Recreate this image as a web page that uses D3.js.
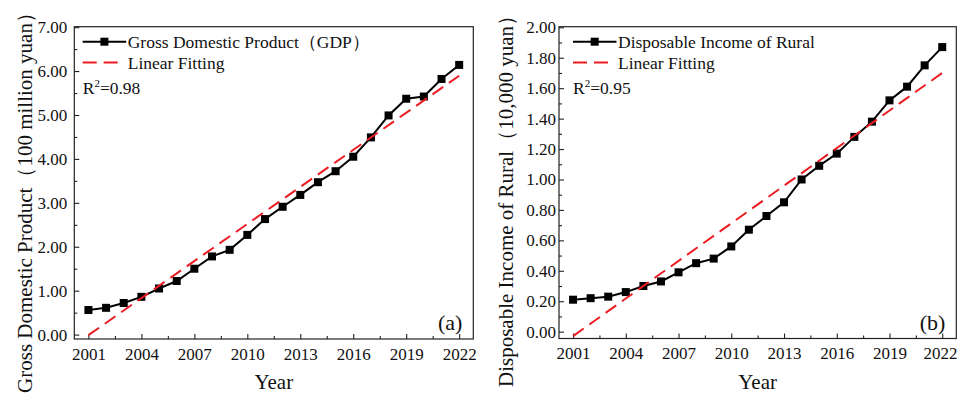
<!DOCTYPE html>
<html>
<head>
<meta charset="utf-8">
<script src="https://cdn.jsdelivr.net/npm/d3@7"></script>
<style>
  html, body { margin: 0; padding: 0; background: #fff; }
  svg { display: block; }
  text { font-family: "Liberation Serif", "Times New Roman", serif; fill: #111; }
</style>
</head>
<body>
<svg id="chart" width="958" height="394"></svg>
<script>
// Yearly observations 2001–2022
const years = [2001, 2002, 2003, 2004, 2005, 2006, 2007, 2008, 2009, 2010, 2011,
               2012, 2013, 2014, 2015, 2016, 2017, 2018, 2019, 2020, 2021, 2022];
// Gross Domestic Product (100 million yuan)
const gdpValues = [0.56, 0.61, 0.72, 0.86, 1.05, 1.22, 1.50, 1.78, 1.93, 2.27, 2.63,
                   2.91, 3.18, 3.47, 3.72, 4.05, 4.49, 4.99, 5.37, 5.42, 5.82, 6.14];
// Disposable income of rural residents (10,000 yuan)
const incomeValues = [0.21, 0.22, 0.23, 0.26, 0.30, 0.33, 0.39, 0.45, 0.48, 0.56, 0.67,
                      0.76, 0.85, 1.00, 1.09, 1.17, 1.28, 1.38, 1.52, 1.61, 1.75, 1.87];

const yearTicks = [2001, 2004, 2007, 2010, 2013, 2016, 2019, 2022];
const gdpTicks = [0, 1, 2, 3, 4, 5, 6, 7];
const incomeTicks = [0, 0.2, 0.4, 0.6, 0.8, 1.0, 1.2, 1.4, 1.6, 1.8, 2.0];
const seriesNames = ["Gross Domestic Product\uFF08GDP\uFF09", "Disposable Income of Rural"];
const fitName = "Linear Fitting";
const rSquaredText = ["0.98", "0.95"];
const yTitles = ["Gross Domestic Product\uFF08100 million yuan\uFF09",
                 "Disposable Income of Rural\uFF0810,000 yuan\uFF09"];
const panelTags = ["(a)", "(b)"];

const svg = d3.select("#chart");
const RED = "#ec1c24";
const SVG_WIDTH = 958;

// Ordinary least-squares fit y = a + b*x
function linearFit(xs, ys) {
  const mx = d3.mean(xs), my = d3.mean(ys);
  let sxy = 0, sxx = 0;
  xs.forEach((x, i) => { sxy += (x - mx) * (ys[i] - my); sxx += (x - mx) * (x - mx); });
  const b = sxy / sxx;
  return { a: my - b * mx, b };
}

function drawPanel(cfg) {
  const { left, right, top, bottom } = cfg.frame;
  const x = d3.scaleLinear().domain([2000.2, 2022.8]).range([left, right]);
  const y = d3.scaleLinear().domain(cfg.yDomain).range([bottom, top]);
  const g = svg.append("g");

  // minor ticks (inward)
  g.append("g").attr("transform", `translate(0,${bottom})`)
    .call(d3.axisBottom(x).tickValues(cfg.xMinor).tickSize(-3).tickFormat(""))
    .call(s => s.select(".domain").remove());
  g.append("g").attr("transform", `translate(${left},0)`)
    .call(d3.axisLeft(y).tickValues(cfg.yMinor).tickSize(-3).tickFormat(""))
    .call(s => s.select(".domain").remove());

  // major ticks with labels
  const xAxis = g.append("g").attr("transform", `translate(0,${bottom})`)
    .call(d3.axisBottom(x).tickValues(yearTicks).tickSize(-5).tickPadding(8.5).tickFormat(d3.format("d")));
  xAxis.select(".domain").remove();
  const yAxis = g.append("g").attr("transform", `translate(${left},0)`)
    .call(d3.axisLeft(y).tickValues(cfg.yTicks).tickSize(-5).tickPadding(cfg.yPad).tickFormat(d3.format(".2f")));
  yAxis.select(".domain").remove();
  g.selectAll(".tick line").attr("stroke", "#222").attr("stroke-width", 1.1);
  g.selectAll(".tick text").attr("font-size", 17).attr("fill", "#111")
    .style("font-family", '"Liberation Serif", "Times New Roman", serif');

  // keep the last year label inside the drawing area
  xAxis.selectAll(".tick text").each(function (d) {
    const t = d3.select(this);
    const half = this.getComputedTextLength() / 2;
    if (x(d) + half > SVG_WIDTH - 1) {
      t.attr("text-anchor", "end").attr("x", SVG_WIDTH - 1 - x(d));
    }
  });

  // frame
  g.append("rect").attr("x", left).attr("y", top)
    .attr("width", right - left).attr("height", bottom - top)
    .attr("fill", "none").attr("stroke", "#222").attr("stroke-width", 1.2);

  // data line + square markers
  const pts = years.map((yr, i) => [yr, cfg.values[i]]);
  g.append("path").datum(pts)
    .attr("fill", "none").attr("stroke", "#000").attr("stroke-width", 2)
    .attr("d", d3.line().x(d => x(d[0])).y(d => y(d[1])));
  g.selectAll(".mk").data(pts).enter().append("rect")
    .attr("x", d => x(d[0]) - 4).attr("y", d => y(d[1]) - 4)
    .attr("width", 8).attr("height", 8).attr("fill", "#000");

  // fitted line
  const fit = linearFit(years, cfg.values);
  const x0 = years[0], x1 = years[years.length - 1];
  g.append("path").datum([[x0, fit.a + fit.b * x0], [x1, fit.a + fit.b * x1]])
    .attr("fill", "none").attr("stroke", RED).attr("stroke-width", 2)
    .attr("stroke-dasharray", "13,7")
    .attr("d", d3.line().x(d => x(d[0])).y(d => y(d[1])));

  // legend
  const lx = left + cfg.legendDx;
  g.append("line").attr("x1", lx).attr("x2", lx + 43.5).attr("y1", 41.7).attr("y2", 41.7)
    .attr("stroke", "#000").attr("stroke-width", 2);
  g.append("rect").attr("x", lx + 21.7 - 4).attr("y", 41.7 - 4).attr("width", 8).attr("height", 8).attr("fill", "#000");
  g.append("text").attr("x", lx + 45).attr("y", 47.5).attr("font-size", 17.5).text(cfg.name);
  g.append("line").attr("x1", lx).attr("x2", lx + 35).attr("y1", 62.5).attr("y2", 62.5)
    .attr("stroke", RED).attr("stroke-width", 2).attr("stroke-dasharray", "14,7");
  g.append("text").attr("x", lx + 45).attr("y", 69).attr("font-size", 17.5).text(fitName);
  const r2 = g.append("text").attr("x", lx).attr("y", 94).attr("font-size", 17.5);
  r2.append("tspan").text("R");
  r2.append("tspan").attr("font-size", 11).attr("dy", -7).text("2");
  r2.append("tspan").attr("dy", 7).text("=" + cfg.r2);

  // panel tag
  g.append("text").attr("x", right - 11).attr("y", 330).attr("text-anchor", "end")
    .attr("font-size", 22).text(cfg.tag);

  // axis titles
  g.append("text").attr("x", (left + right) / 2).attr("y", 389).attr("text-anchor", "middle")
    .attr("font-size", 21).text("Year");
  g.append("text").attr("transform", `translate(${cfg.titleX},${cfg.titleY}) rotate(-90)`)
    .attr("text-anchor", "middle").attr("font-size", 21).text(cfg.yTitle);
}

const xMinor = [2002.5, 2005.5, 2008.5, 2011.5, 2014.5, 2017.5, 2020.5];

drawPanel({
  frame: { left: 74.3, right: 473.3, top: 26.7, bottom: 339 },
  yDomain: [-0.10, 7.01],
  yTicks: gdpTicks,
  yMinor: [0.5, 1.5, 2.5, 3.5, 4.5, 5.5, 6.5],
  xMinor,
  yPad: 7,
  values: gdpValues,
  name: seriesNames[0],
  r2: rSquaredText[0],
  tag: panelTags[0],
  yTitle: yTitles[0],
  titleX: 32,
  titleY: 197.5,
  legendDx: 8.4
});

drawPanel({
  frame: { left: 559, right: 956.3, top: 26.7, bottom: 338.5 },
  yDomain: [-0.045, 2.004],
  yTicks: incomeTicks,
  yMinor: [0.1, 0.3, 0.5, 0.7, 0.9, 1.1, 1.3, 1.5, 1.7, 1.9],
  xMinor,
  yPad: 3,
  values: incomeValues,
  name: seriesNames[1],
  r2: rSquaredText[1],
  tag: panelTags[1],
  yTitle: yTitles[1],
  titleX: 513,
  titleY: 196,
  legendDx: 14
});
</script>
</body>
</html>
